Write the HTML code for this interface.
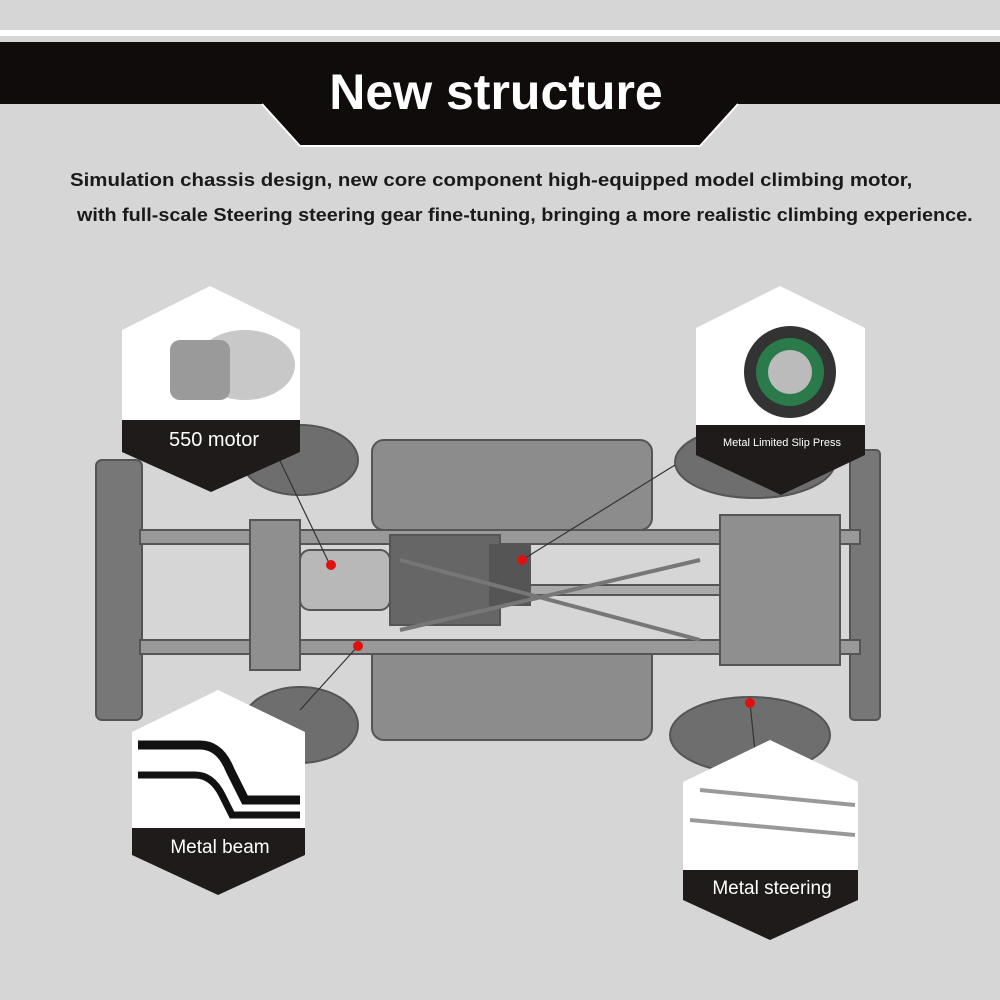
<!DOCTYPE html>
<html><head><meta charset="utf-8"><style>
html,body{margin:0;padding:0}
body{width:1000px;height:1000px;background:#d6d6d6;position:relative;overflow:hidden;font-family:"Liberation Sans",sans-serif}
.t{position:absolute;font-weight:bold;color:#1a1a1a;font-size:18px;white-space:nowrap;transform-origin:0 0}
</style></head><body>
<svg width="1000" height="1000" style="position:absolute;left:0;top:0">
  <rect x="0" y="30" width="1000" height="6" fill="#ffffff"/>
  <rect x="0" y="42" width="1000" height="62" fill="#100c0c"/>
  <polygon points="262,42 738,42 738,104 700,146 300,146 262,104" fill="#100c0c"/>
  <polyline points="262,104 300,146 700,146 738,104" fill="none" stroke="#ffffff" stroke-width="2"/>
  <text x="496" y="109" text-anchor="middle" font-family="Liberation Sans" font-weight="bold" font-size="50" fill="#ffffff">New structure</text>

  <g fill="#8a8a8a" stroke="#555" stroke-width="2">
    <ellipse cx="300" cy="460" rx="58" ry="35" fill="#6e6e6e"/>
    <ellipse cx="300" cy="725" rx="58" ry="38" fill="#6e6e6e"/>
    <ellipse cx="755" cy="462" rx="80" ry="36" fill="#6e6e6e"/>
    <ellipse cx="750" cy="735" rx="80" ry="38" fill="#6e6e6e"/>
    <rect x="96" y="460" width="46" height="260" rx="6" fill="#777"/>
    <rect x="850" y="450" width="30" height="270" rx="4" fill="#777"/>
    <rect x="372" y="440" width="280" height="90" rx="12" fill="#8c8c8c"/>
    <rect x="372" y="640" width="280" height="100" rx="12" fill="#8c8c8c"/>
    <rect x="140" y="530" width="720" height="14" fill="#999"/>
    <rect x="140" y="640" width="720" height="14" fill="#999"/>
    <rect x="250" y="520" width="50" height="150" fill="#8f8f8f"/>
    <rect x="720" y="515" width="120" height="150" fill="#8f8f8f"/>
    <rect x="300" y="550" width="90" height="60" rx="10" fill="#b8b8b8"/>
    <rect x="390" y="535" width="110" height="90" fill="#666"/>
    <rect x="490" y="545" width="40" height="60" fill="#555"/>
    <rect x="530" y="585" width="190" height="10" fill="#aaa"/>
  </g>
  <g stroke="#777" stroke-width="4">
    <line x1="400" y1="560" x2="700" y2="640"/>
    <line x1="400" y1="630" x2="700" y2="560"/>
  </g>

  <g stroke="#333" stroke-width="1.2" fill="none">
    <polyline points="270,440 330,565"/>
    <polyline points="675,465 522,560"/>
    <polyline points="300,710 358,646"/>
    <polyline points="760,800 750,703"/>
  </g>
  <g fill="#e01010">
    <circle cx="331" cy="565" r="5"/><circle cx="522" cy="560" r="5"/>
    <circle cx="358" cy="646" r="5"/><circle cx="750" cy="703" r="5"/>
  </g>

  <polygon points="210,286 300,330 300,420 122,420 122,330" fill="#fff"/>
  <ellipse cx="245" cy="365" rx="50" ry="35" fill="#c8c8c8"/>
  <rect x="170" y="340" width="60" height="60" rx="10" fill="#9a9a9a"/>
  <polygon points="122,420 300,420 300,452 211,492 122,452" fill="#1f1b1b"/>
  <text x="214" y="446" text-anchor="middle" font-size="20" fill="#fff" font-family="Liberation Sans">550 motor</text>
  <polygon points="780,286 865,328 865,425 696,425 696,328" fill="#fff"/>
  <circle cx="790" cy="372" r="46" fill="#333"/><circle cx="790" cy="372" r="34" fill="#2a7a4a"/><circle cx="790" cy="372" r="22" fill="#bbb"/>
  <polygon points="696,425 865,425 865,455 781,495 696,455" fill="#1f1b1b"/>
  <text x="782" y="446" text-anchor="middle" font-size="11" fill="#fff" font-family="Liberation Sans">Metal Limited Slip Press</text>
  <polygon points="218,690 305,732 305,828 132,828 132,732" fill="#fff"/>
  <path d="M138,745 L200,745 Q220,745 230,770 L245,800 L300,800" stroke="#111" stroke-width="9" fill="none"/>
  <path d="M138,775 L195,775 Q212,775 222,795 L232,815 L300,815" stroke="#111" stroke-width="7" fill="none"/>
  <polygon points="132,828 305,828 305,855 218,895 132,855" fill="#1f1b1b"/>
  <text x="220" y="853" text-anchor="middle" font-size="19" fill="#fff" font-family="Liberation Sans">Metal beam</text>
  <polygon points="770,740 858,782 858,870 683,870 683,782" fill="#fff"/>
  <line x1="700" y1="790" x2="855" y2="805" stroke="#999" stroke-width="4"/>
  <line x1="690" y1="820" x2="855" y2="835" stroke="#999" stroke-width="4"/>
  <polygon points="683,870 858,870 858,900 770,940 683,900" fill="#1f1b1b"/>
  <text x="772" y="894" text-anchor="middle" font-size="19" fill="#fff" font-family="Liberation Sans">Metal steering</text>
</svg>
<div class="t" style="top:170px;left:70px;transform:scaleX(1.135)">Simulation chassis design, new core component high-equipped model climbing motor,</div>
<div class="t" style="top:205px;left:77px;transform:scaleX(1.10)">with full-scale Steering steering gear fine-tuning, bringing a more realistic climbing experience.</div>
</body></html>
